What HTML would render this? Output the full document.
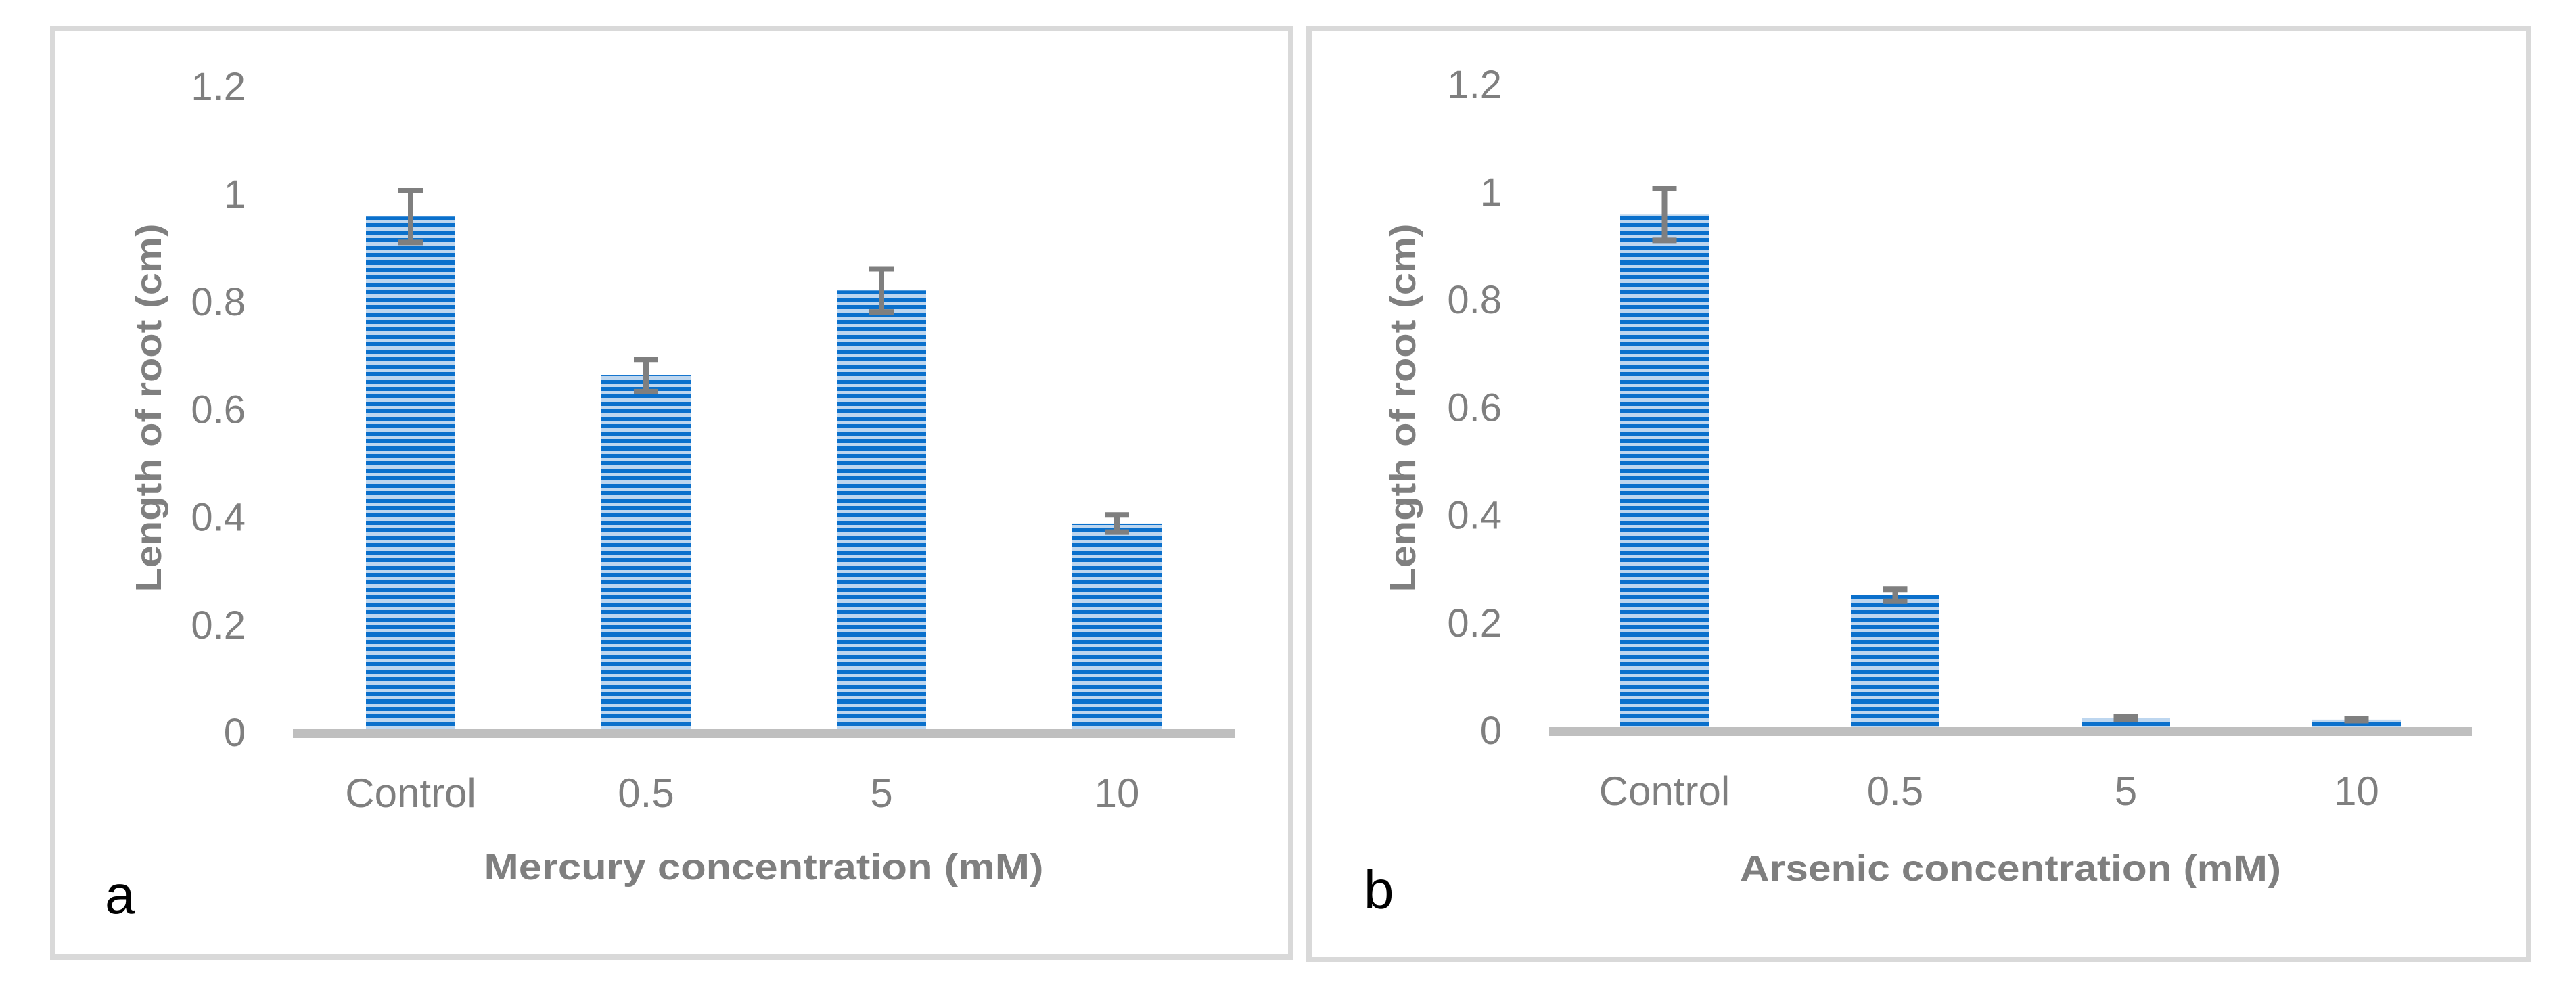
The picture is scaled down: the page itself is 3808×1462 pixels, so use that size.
<!DOCTYPE html>
<html><head><meta charset="utf-8"><style>
html,body{margin:0;padding:0;background:#fff;}
svg{display:block;}
text{font-family:"Liberation Sans",sans-serif;}
</style></head><body>
<svg id="fig" width="3808" height="1462" viewBox="0 0 3808 1462" xmlns="http://www.w3.org/2000/svg">
<defs>
<pattern id="stripes" patternUnits="userSpaceOnUse" width="20" height="11">
<rect width="20" height="11" fill="#bdd6ef"/>
<rect y="0" width="20" height="6" fill="#0a70cc"/>
</pattern>
</defs>
<rect x="78" y="42" width="1830" height="1373" fill="#fff" stroke="#d9d9d9" stroke-width="8"/>
<rect x="1935" y="42" width="1803" height="1376" fill="#fff" stroke="#d9d9d9" stroke-width="8"/>
<g id="pa"></g>
<g id="pb"></g>
</svg>
<script>
const categories = ["Control", "0.5", "5", "10"];
const mercuryValues = [0.957, 0.662, 0.82, 0.387];
const mercuryErrors = [0.053, 0.035, 0.045, 0.021];
const arsenicValues = [0.957, 0.25, 0.022, 0.019];
const arsenicErrors = [0.053, 0.016, 0.003, 0.003];
const yTicks = [0, 0.2, 0.4, 0.6, 0.8, 1, 1.2];
const yTickLabels = ["0", "0.2", "0.4", "0.6", "0.8", "1", "1.2"];

const NS = "http://www.w3.org/2000/svg";
function mk(tag, attrs, parent, txt) {
  const e = document.createElementNS(NS, tag);
  for (const k in attrs) e.setAttribute(k, attrs[k]);
  if (txt !== undefined) e.textContent = txt;
  parent.appendChild(e);
  return e;
}

function drawPanel(g, cfg, values, errors, xTitle, letter, prefix) {
  const yScale = v => cfg.zeroY - v * cfg.unit;
  const band = (cfg.axisR - cfg.axisL) / categories.length;
  const xCenter = i => cfg.axisL + band * (i + 0.5);

  yTicks.forEach((t, i) => {
    const lab = mk("text", {x: cfg.labelR, y: yScale(t) + 21, "text-anchor": "end", "font-size": 58, fill: "#7f7f7f"}, g, yTickLabels[i]);
    
    
  });

  categories.forEach((c, i) => {
    const top = yScale(values[i]);
    const bar = mk("rect", {x: xCenter(i) - cfg.barW / 2, y: top, width: cfg.barW, height: cfg.zeroY - 5 - top, fill: "url(#stripes)"}, g);
    
    
  });

  const axis = mk("rect", {x: cfg.axisL, y: cfg.zeroY - 5, width: cfg.axisR - cfg.axisL, height: 14, fill: "#bfbfbf"}, g);
  
  

  categories.forEach((c, i) => {
    const hi = yScale(values[i] + errors[i]), lo = yScale(values[i] - errors[i]);
    const cx = xCenter(i);
    const eb = mk("path", {d: `M${cx},${hi} V${lo} M${cx - 18},${hi + 4} H${cx + 18} M${cx - 18},${lo - 4} H${cx + 18}`, stroke: "#7f7f7f", "stroke-width": 8, fill: "none"}, g);
    
    
    const cl = mk("text", {x: cx, y: cfg.catY, "text-anchor": "middle", "font-size": 60, fill: "#7f7f7f"}, g, c);
    
    
  });

  const xt = mk("text", {x: (cfg.axisL + cfg.axisR) / 2, y: cfg.titleY, "text-anchor": "middle", "font-size": 54, "font-weight": "bold", fill: "#7f7f7f", textLength: cfg.titleW, lengthAdjust: "spacingAndGlyphs"}, g, xTitle);
  
  

  const yt = mk("text", {x: 0, y: 0, "text-anchor": "middle", "font-size": 54, "font-weight": "bold", fill: "#7f7f7f", textLength: 545, lengthAdjust: "spacingAndGlyphs", transform: `translate(${cfg.yTitleX},603) rotate(-90)`}, g, "Length of root (cm)");
  
  

  const lt = mk("text", {x: cfg.letterX, y: cfg.letterY, "font-size": 80, fill: "#000"}, g, letter);
  
  
}

drawPanel(document.getElementById("pa"),
  {zeroY: 1082, unit: 796, axisL: 433, axisR: 1825, labelR: 363, barW: 132, catY: 1193, titleY: 1300, titleW: 827, yTitleX: 238, letterX: 155, letterY: 1350},
  mercuryValues, mercuryErrors, "Mercury concentration (mM)", "a", "mercury");
drawPanel(document.getElementById("pb"),
  {zeroY: 1079, unit: 796, axisL: 2290, axisR: 3654, labelR: 2220, barW: 131, catY: 1190, titleY: 1302, titleW: 800, yTitleX: 2092, letterX: 2016, letterY: 1343},
  arsenicValues, arsenicErrors, "Arsenic concentration (mM)", "b", "arsenic");
</script>
</body></html>
